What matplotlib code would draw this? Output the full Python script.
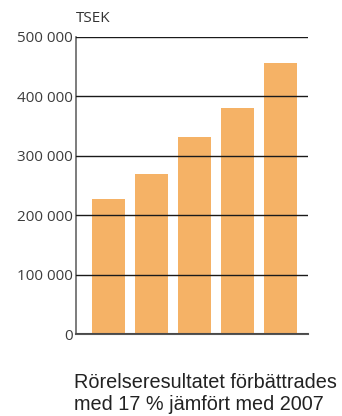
import matplotlib
matplotlib.use("Agg")
import matplotlib.pyplot as plt
from matplotlib.ticker import FuncFormatter

years = ["2004", "2005", "2006", "2007", "2008"]
values = [227000, 269000, 331500, 380000, 456500]
yticks = [0, 100000, 200000, 300000, 400000, 500000]

fig = plt.figure(figsize=(3.42, 4.16), dpi=100)
ax = fig.add_axes([76/342, 82/416, 232/342, 297/416])

x = list(range(len(values)))
ax.bar(x, values, width=0.77, color="#F5B266", zorder=1)
ax.set_ylim(0, 500000)
ax.set_xlim(-0.756, 4.64)
ax.set_yticks(yticks)
ax.yaxis.set_major_formatter(FuncFormatter(lambda v, p: f"{int(v):,}".replace(",", " ")))
ax.set_xticks([])
ax.grid(axis="y", color="#1a1a1a", linewidth=1.0, zorder=2)
ax.set_axisbelow(False)
for s in ["top", "right"]:
    ax.spines[s].set_visible(False)
ax.spines["left"].set_color("#666666")
ax.spines["left"].set_linewidth(1.2)
ax.spines["bottom"].set_color("#555555")
ax.spines["bottom"].set_linewidth(1.5)
ax.tick_params(axis="y", length=0, pad=2, labelsize=11, labelcolor="#3c3c3c")
for lab in ax.get_yticklabels():
    lab.set_fontfamily("Open Sans")

fig.text(76/342, 1 - 18.5/416, "TSEK", fontsize=11, color="#333333",
         family="Open Sans", va="center", ha="left")
fig.text(74/342, 1 - 383/416, "Rörelseresultatet förbättrades", fontsize=14.3,
         color="#222222", family="Liberation Sans", va="center", ha="left")
fig.text(74/342, 1 - 404/416, "med 17 % jämfört med 2007", fontsize=14.3,
         color="#222222", family="Liberation Sans", va="center", ha="left")

fig.savefig("out.png", dpi=100)
